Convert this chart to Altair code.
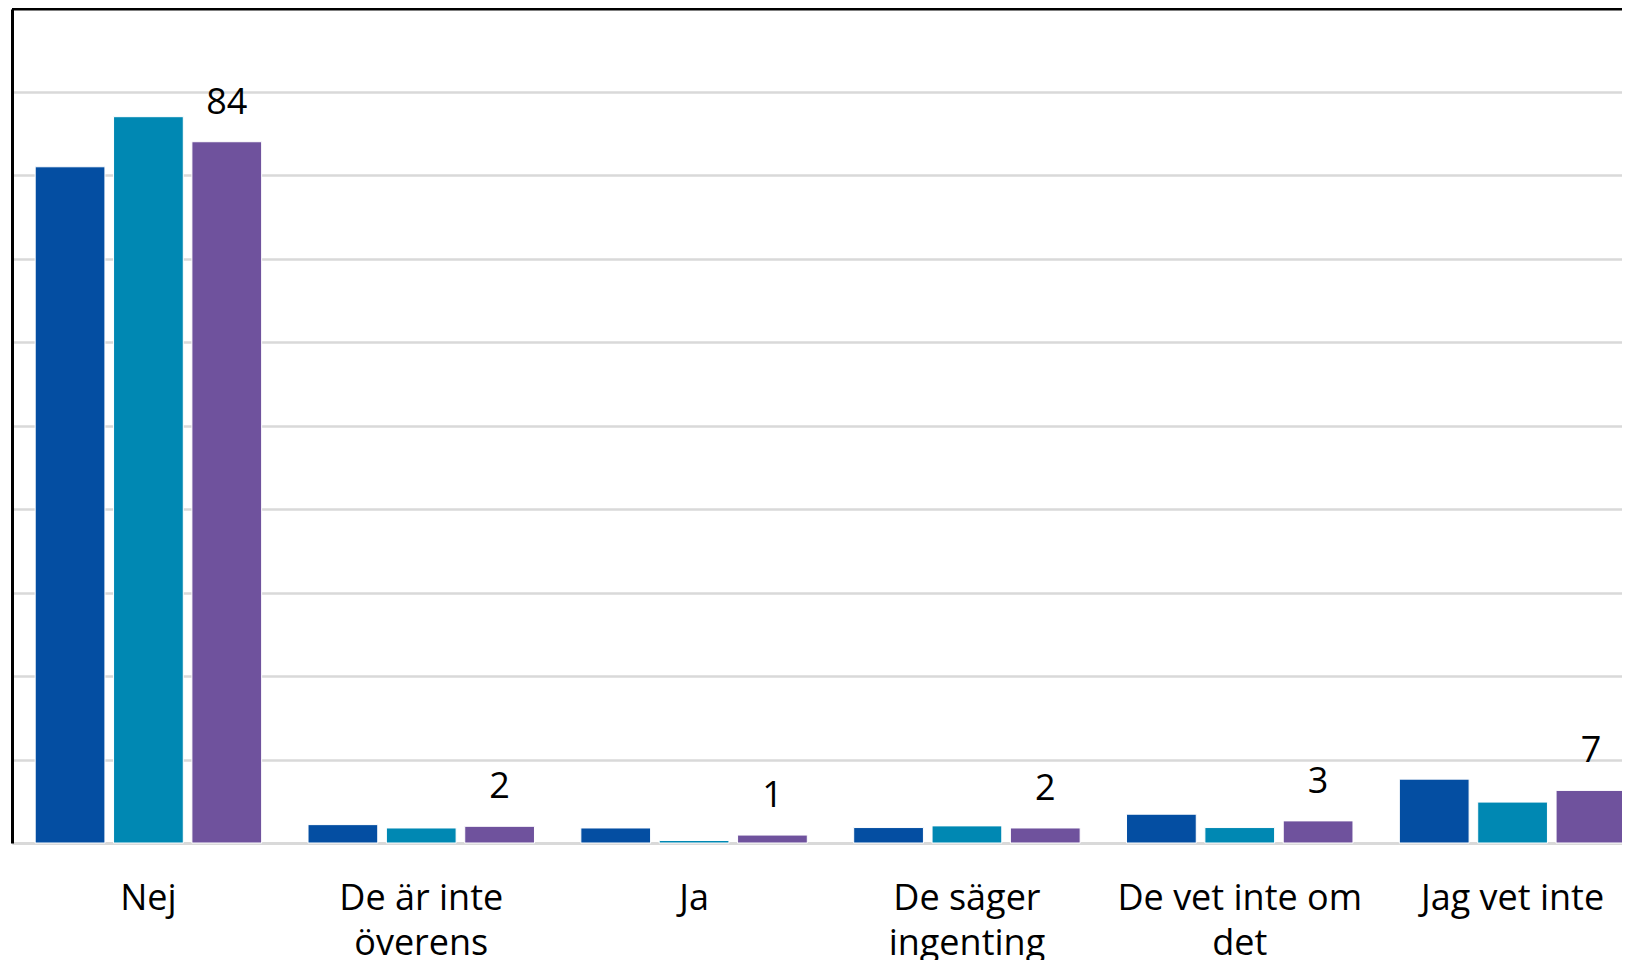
import json
import altair as alt
import pandas as pd

# ---- data ----
categories = ["Nej", "De är inte överens", "Ja", "De säger ingenting",
              "De vet inte om det", "Jag vet inte"]
category_lines = [["Nej"], ["De är inte", "överens"], ["Ja"],
                  ["De säger", "ingenting"], ["De vet inte om", "det"],
                  ["Jag vet inte"]]
series = ["Serie 1", "Serie 2", "Serie 3"]
serie1 = [81, 2.2, 1.8, 1.85, 3.45, 7.65]
serie2 = [87, 1.8, 0.3, 2.05, 1.85, 4.9]
serie3 = [84, 2.0, 0.95, 1.8, 2.65, 6.3]
serie3_labels = ["84", "2", "1", "2", "3", "7"]
colors = ["#044EA2", "#0088B3", "#6F529D"]
y_ticks = [0, 10, 20, 30, 40, 50, 60, 70, 80, 90]

rows = []
for s, vals in zip(series, [serie1, serie2, serie3]):
    for i, c in enumerate(categories):
        rows.append({"cat": c, "series": s, "value": vals[i],
                     "label": serie3_labels[i] if s == "Serie 3" else ""})
df = pd.DataFrame(rows)

label_expr = ""
for c, lines in zip(categories, category_lines):
    label_expr += f"datum.value == {json.dumps(c, ensure_ascii=False)} ? {json.dumps(lines, ensure_ascii=False)} : "
label_expr += "datum.label"

FONT = "Open Sans"
W, H = 1610, 834

x = alt.X(
    "cat:N", sort=categories,
    scale=alt.Scale(domain=categories, range=[0, 1637],
                    paddingInner=0.17, paddingOuter=0.085),
    axis=alt.Axis(title=None, labelExpr=label_expr, labelFont=FONT,
                  labelFontSize=36, labelColor="black", labelPadding=38,
                  labelLineHeight=45, labelBaseline="top", labelAngle=0,
                  labelLimit=600, ticks=False, tickSize=0, grid=False,
                  domainColor="#D9D9D9", domainWidth=3),
)
xo = alt.XOffset("series:N", sort=series,
                 scale=alt.Scale(domain=series, paddingInner=0.11, paddingOuter=0))
y = alt.Y(
    "value:Q",
    scale=alt.Scale(domain=[0, 99.9], nice=False, zero=True),
    axis=alt.Axis(title=None, labels=False, ticks=False, values=y_ticks,
                  grid=True, gridColor="#D9D9D9", gridWidth=2.5,
                  domainColor="black", domainWidth=3),
)

base = alt.Chart(df)
bars = base.mark_bar(stroke="white", strokeWidth=1).encode(
    x=x, xOffset=xo, y=y,
    color=alt.Color("series:N", scale=alt.Scale(domain=series, range=colors),
                    legend=None),
)
text = base.transform_filter(alt.datum.series == "Serie 3").mark_text(
    dy=-28, baseline="alphabetic", align="center", fontSize=36, font=FONT,
    color="black",
).encode(x=x, xOffset=xo, y=y, text="label:N")

border = alt.Chart(pd.DataFrame({"v": [0]})).mark_rule(
    color="black", strokeWidth=3
).encode(x=alt.value(0), x2=alt.value(W), y=alt.value(0))

chart = alt.layer(bars, text, border).properties(
    width=W, height=H,
    padding={"left": 4, "top": 1, "right": 0, "bottom": 117},
    autosize=alt.AutoSizeParams(type="none"),
).configure_view(stroke=None).configure(background="white")

chart.save("out.html", embed_options={"renderer": "svg", "actions": False})
